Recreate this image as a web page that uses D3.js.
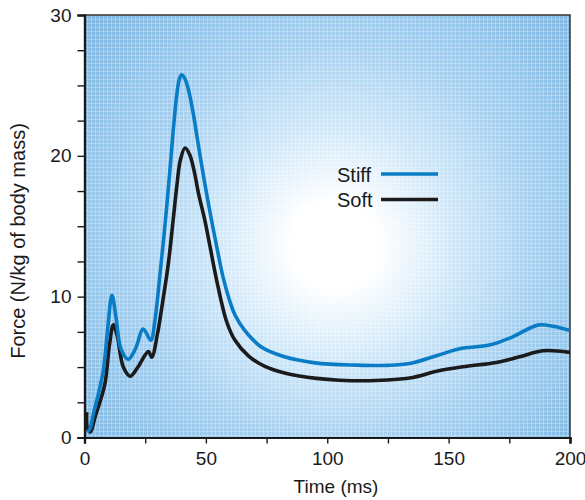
<!DOCTYPE html>
<html>
<head>
<meta charset="utf-8">
<script src="https://d3js.org/d3.v7.min.js"></script>
<style>
  html, body { margin: 0; padding: 0; background: #ffffff; }
  svg { display: block; }
  text { font-family: "Liberation Sans", Arial, Helvetica, sans-serif; fill: #1a1a1a; }
</style>
</head>
<body>
<div id="chart"></div>
<script>
// ---- data ----
const stiffTime  = [1.2, 2.2, 3.7, 6.0, 7.8, 9.5, 11.3, 13.0, 15.0, 18.0, 21.0, 24.2, 27.3, 29.0, 31.1, 33.0, 35.0, 36.6, 38.0, 39.0, 40.0, 41.0, 42.5, 44.5, 46.5, 48.0, 50.0, 52.8, 55.1, 57.2, 60, 62, 66, 73, 82, 95, 112, 125, 134, 145, 154.5, 166.8, 176.4, 186.7, 193, 200];
const stiffForce = [0.4, 0.6, 1.7, 3.3, 4.8, 7.6, 10.1, 8.5, 6.3, 5.55, 6.3, 7.7, 6.9, 8.3, 11.6, 14.8, 18.6, 21.9, 24.3, 25.4, 25.75, 25.6, 24.9, 23.3, 21.2, 19.6, 17.6, 15.0, 13.0, 11.3, 9.6, 8.7, 7.6, 6.4, 5.75, 5.3, 5.14, 5.12, 5.25, 5.8, 6.3, 6.56, 7.15, 7.98, 7.9, 7.6];

const softTime  = [0.9, 1.3, 2.5, 4.4, 6.5, 8.5, 10.3, 11.9, 13.5, 16.0, 18.8, 22.0, 26.3, 27.7, 30.0, 32.0, 34.5, 36.5, 38.0, 39.5, 41.4, 43.3, 45.2, 47.0, 49.6, 52.0, 54.4, 58.6, 62, 67.5, 74.3, 83.2, 95.6, 105, 120, 135.3, 145, 155.9, 169.6, 179.2, 188.8, 200];
const softForce = [1.8, 0.6, 0.4, 1.5, 2.6, 3.9, 6.6, 8.0, 7.2, 5.0, 4.35, 5.0, 6.1, 5.7, 7.3, 9.4, 12.3, 15.4, 17.8, 19.7, 20.55, 20.1, 18.9, 17.3, 15.4, 13.3, 11.2, 8.2, 6.9, 5.8, 5.05, 4.55, 4.2, 4.07, 4.05, 4.26, 4.7, 5.02, 5.33, 5.73, 6.16, 6.04];

const seriesNames = ["Stiff", "Soft"];
const xTickValues = [0, 50, 100, 150, 200];
const xMinorTicks = [25, 75, 125, 175];
const yTickValues = [0, 10, 20, 30];
const yMinorTicks = [2.5, 5, 7.5, 12.5, 15, 17.5, 22.5, 25, 27.5];
const xTitle = "Time (ms)";
const yTitle = "Force (N/kg of body mass)";

// ---- layout ----
const W = 585, H = 500;
const pL = 84.5, pR = 570, pT = 15, pB = 437.5;
const colors = { Stiff: "#0a7cc6", Soft: "#1b1b1b" };

const svg = d3.select("#chart").append("svg").attr("width", W).attr("height", H);

const x = d3.scaleLinear().domain([0, 200]).range([pL, pR]);
const y = d3.scaleLinear().domain([0, 30]).range([pB, pT]);

// background
const defs = svg.append("defs");
const grad = defs.append("radialGradient").attr("id", "bg")
  .attr("gradientUnits", "userSpaceOnUse")
  .attr("cx", 335).attr("cy", 245).attr("r", 330);
grad.append("stop").attr("offset", 0).attr("stop-color", "#ffffff");
grad.append("stop").attr("offset", 0.13).attr("stop-color", "#ffffff");
grad.append("stop").attr("offset", 0.35).attr("stop-color", "#d2e8f8");
grad.append("stop").attr("offset", 0.6).attr("stop-color", "#a8d0ef");
grad.append("stop").attr("offset", 0.85).attr("stop-color", "#8cc1e8");
grad.append("stop").attr("offset", 1).attr("stop-color", "#7fb8e4");

const pat = defs.append("pattern").attr("id", "tex")
  .attr("patternUnits", "userSpaceOnUse").attr("width", 4).attr("height", 4);
pat.append("rect").attr("x", 0).attr("y", 3).attr("width", 4).attr("height", 1).attr("fill", "#ffffff").attr("opacity", 0.25);
pat.append("rect").attr("x", 3).attr("y", 0).attr("width", 1).attr("height", 4).attr("fill", "#ffffff").attr("opacity", 0.25);

defs.append("clipPath").attr("id", "clip").append("rect")
  .attr("x", pL).attr("y", pT).attr("width", pR - pL).attr("height", pB - pT);

svg.append("rect").attr("x", pL).attr("y", pT).attr("width", pR - pL).attr("height", pB - pT)
  .attr("fill", "url(#bg)");
svg.append("rect").attr("x", pL).attr("y", pT).attr("width", pR - pL).attr("height", pB - pT)
  .attr("fill", "url(#tex)");

// frame (top/right)
svg.append("path")
  .attr("d", `M${pL},${pT}H${pR}V${pB}`)
  .attr("fill", "none").attr("stroke", "#333").attr("stroke-width", 1.5);

// lines
const line = d3.line().x(d => x(d[0])).y(d => y(d[1])).curve(d3.curveCatmullRom.alpha(0.5));
const stiff = stiffTime.map((t, i) => [t, stiffForce[i]]);
const soft = softTime.map((t, i) => [t, softForce[i]]);
const g = svg.append("g").attr("clip-path", "url(#clip)");
g.append("path").datum(soft).attr("d", line).attr("fill", "none")
  .attr("stroke", colors.Soft).attr("stroke-width", 3.6).attr("stroke-linejoin", "round");
g.append("path").datum(stiff).attr("d", line).attr("fill", "none")
  .attr("stroke", colors.Stiff).attr("stroke-width", 3.6).attr("stroke-linejoin", "round");

// axes
const xAxis = d3.axisBottom(x).tickValues(xTickValues).tickSize(6).tickPadding(8).tickFormat(d3.format("d"));
const xMinor = d3.axisBottom(x).tickValues(xMinorTicks).tickSize(6).tickFormat("");
const yAxis = d3.axisLeft(y).tickValues(yTickValues).tickSize(7).tickPadding(6).tickFormat(d3.format("d"));
const yMinor = d3.axisLeft(y).tickValues(yMinorTicks).tickSize(7).tickFormat("");

function styleAxis(sel) {
  sel.select(".domain").attr("stroke", "#1a1a1a").attr("stroke-width", 2.2);
  sel.selectAll(".tick line").attr("stroke", "#1a1a1a").attr("stroke-width", 1.4);
  sel.selectAll("text").style("font-size", "19px").attr("fill", "#1a1a1a");
}
svg.append("g").attr("transform", `translate(0,${pB})`).call(xMinor).call(styleAxis);
svg.append("g").attr("transform", `translate(0,${pB})`).call(xAxis).call(styleAxis);
svg.append("g").attr("transform", `translate(${pL},0)`).call(yMinor).call(styleAxis);
svg.append("g").attr("transform", `translate(${pL},0)`).call(yAxis).call(styleAxis);

// titles
svg.append("text").attr("x", 336).attr("y", 493).attr("text-anchor", "middle")
  .style("font-size", "19px").text(xTitle);
svg.append("text").attr("transform", "translate(25,241) rotate(-90)").attr("text-anchor", "middle")
  .style("font-size", "20px").text(yTitle);

// legend
const legY = [174, 199.5];
seriesNames.forEach((name, i) => {
  svg.append("text").attr("x", 337).attr("y", legY[i] + 7.5).style("font-size", "20px").text(name);
  svg.append("line").attr("x1", 381).attr("x2", 438).attr("y1", legY[i]).attr("y2", legY[i])
    .attr("stroke", colors[name]).attr("stroke-width", 3.6);
});
</script>
</body>
</html>
